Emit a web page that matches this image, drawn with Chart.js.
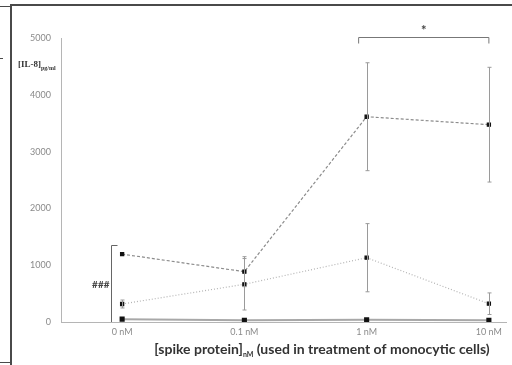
<!DOCTYPE html>
<html>
<head>
<meta charset="utf-8">
<script src="https://cdn.jsdelivr.net/npm/chart.js@4"></script>
<style>
  html, body { margin: 0; padding: 0; background: #fff; }
  #wrap { position: relative; width: 512px; height: 365px; }
</style>
</head>
<body>
<div id="wrap"><canvas id="chart" width="512" height="365"></canvas></div>
<script>
// Data
const CATEGORIES = ['0 nM', '0.1 nM', '1 nM', '10 nM'];
const SERIES_A = [1195, 886, 3614, 3474];
const ERROR_A = [0, 264, 950, 1010];
const SERIES_B = [317, 664, 1132, 322];
const ERROR_B = [70, 453, 600, 190];
const SERIES_C = [50, 30, 40, 30];
const ERROR_C = [0, 0, 0, 0];
const Y_TICKS = [0, 1000, 2000, 3000, 4000, 5000];

// Significance marks
const STAR_FROM = 2;
const STAR_TO = 3;
const STAR_LEVEL = 5020;
const STAR_TEXT = '*';
const HASH_TOP = 1360;
const HASH_TEXT = '###';

// Colors
const TICK_COLOR = '#8a8a8a';
const AXIS_COLOR = '#b5b5b5';
const FRAME_COLOR = '#4a4a4a';
const TITLE_COLOR = '#333333';
const FONT_FAMILY = 'Lato, "Open Sans", sans-serif';

const toPoints = (values) => values.map((v, i) => ({ x: i, y: v }));

const errorBars = {
    id: 'errorBars',
    afterDatasetsDraw(chart) {
        const ctx = chart.ctx;
        const xs = chart.scales.x;
        const ys = chart.scales.y;
        const sets = [ERROR_A, ERROR_B, ERROR_C];
        ctx.save();
        ctx.strokeStyle = '#9a9a9a';
        ctx.lineWidth = 1;
        chart.data.datasets.forEach((ds, di) => {
            ds.data.forEach((p, i) => {
                const err = sets[di][i];
                if (!err) return;
                const x = Math.round(xs.getPixelForValue(p.x)) + 0.5;
                const top = ys.getPixelForValue(p.y + err);
                const bot = ys.getPixelForValue(p.y - err);
                ctx.beginPath();
                ctx.moveTo(x, top); ctx.lineTo(x, bot);
                ctx.moveTo(x - 2, top); ctx.lineTo(x + 2, top);
                ctx.moveTo(x - 2, bot); ctx.lineTo(x + 2, bot);
                ctx.stroke();
            });
        });
        ctx.restore();
    }
};

const decorations = {
    id: 'decorations',
    afterDraw(chart) {
        const ctx = chart.ctx;
        const xs = chart.scales.x;
        const ys = chart.scales.y;
        ctx.save();

        // outer frame pieces
        ctx.strokeStyle = FRAME_COLOR;
        ctx.lineWidth = 2;
        ctx.beginPath();
        ctx.moveTo(11, 365); ctx.lineTo(11, 5); ctx.lineTo(512, 5);
        ctx.stroke();
        ctx.lineWidth = 1;
        ctx.beginPath();
        ctx.moveTo(0, 6.5); ctx.lineTo(10, 6.5);
        ctx.moveTo(0, 362.5); ctx.lineTo(10, 362.5);
        ctx.moveTo(0, 58.5); ctx.lineTo(3, 58.5);
        ctx.stroke();

        // star bracket
        const x1 = xs.getPixelForValue(STAR_FROM) - 8;
        const x2 = xs.getPixelForValue(STAR_TO);
        const yb = Math.round(ys.getPixelForValue(STAR_LEVEL)) + 0.5;
        ctx.strokeStyle = '#777';
        ctx.beginPath();
        ctx.moveTo(x1, yb + 6); ctx.lineTo(x1, yb); ctx.lineTo(x2, yb); ctx.lineTo(x2, yb + 6);
        ctx.stroke();
        ctx.fillStyle = '#444';
        ctx.font = 'bold 13px ' + FONT_FAMILY;
        ctx.textAlign = 'center';
        ctx.textBaseline = 'middle';
        ctx.fillText(STAR_TEXT, (x1 + x2) / 2, yb - 7);

        // hash bracket
        const hx = Math.round(xs.getPixelForValue(0)) - 10.5;
        const hTop = Math.round(ys.getPixelForValue(HASH_TOP)) + 0.5;
        const hBot = ys.getPixelForValue(0);
        ctx.strokeStyle = '#666';
        ctx.beginPath();
        ctx.moveTo(hx + 6, hTop); ctx.lineTo(hx, hTop); ctx.lineTo(hx, hBot);
        ctx.stroke();
        ctx.fillStyle = '#444';
        ctx.font = 'bold 10px ' + FONT_FAMILY;
        ctx.textAlign = 'right';
        ctx.fillText(HASH_TEXT, hx - 2, (hTop + hBot) / 2 + 1);

        // y title with subscript
        ctx.fillStyle = TITLE_COLOR;
        ctx.textAlign = 'left';
        ctx.textBaseline = 'alphabetic';
        ctx.font = 'bold 9px "Liberation Serif", serif';
        ctx.fillText('[IL-8]', 18, 67);
        let w = ctx.measureText('[IL-8]').width;
        ctx.font = 'bold 6px "Liberation Serif", serif';
        ctx.fillText('pg/ml', 18 + w, 70);

        // x title with subscript
        const parts = [
            ['[spike protein]', 'bold 14px ' + FONT_FAMILY, 0],
            ['nM', 'bold 7px ' + FONT_FAMILY, 3],
            [' (used in treatment of monocytic cells)', 'bold 14px ' + FONT_FAMILY, 0]
        ];
        let total = 0;
        parts.forEach(p => { ctx.font = p[1]; total += ctx.measureText(p[0]).width; });
        let x = 322 - total / 2;
        parts.forEach(p => {
            ctx.font = p[1];
            ctx.fillText(p[0], x, 354 + p[2]);
            x += ctx.measureText(p[0]).width;
        });
        ctx.restore();
    }
};

const data = {
    datasets: [{
        label: 'A',
        data: toPoints(SERIES_A),
        borderColor: '#8c8c8c',
        borderWidth: 1.2,
        borderDash: [3, 2],
        pointStyle: 'rect',
        pointRadius: 2.2,
        pointBackgroundColor: '#111',
        pointBorderColor: '#111'
    }, {
        label: 'B',
        data: toPoints(SERIES_B),
        borderColor: '#b4b4b4',
        borderWidth: 1.2,
        borderDash: [1, 2],
        pointStyle: 'rect',
        pointRadius: 2.2,
        pointBackgroundColor: '#111',
        pointBorderColor: '#111'
    }, {
        label: 'C',
        data: toPoints(SERIES_C),
        borderColor: '#a8a8a8',
        borderWidth: 2,
        pointStyle: 'rect',
        pointRadius: 2.2,
        pointBackgroundColor: '#111',
        pointBorderColor: '#111'
    }]
};

const options = {
    responsive: false,
    animation: false,
    layout: { padding: { top: 38, left: 0, right: 0, bottom: 0 } },
    plugins: { legend: { display: false }, tooltip: { enabled: false } },
    scales: {
        x: {
            type: 'linear',
            min: -0.5,
            max: 3.14,
            afterBuildTicks: (scale) => { scale.ticks = CATEGORIES.map((c, i) => ({ value: i })); },
            afterFit: (scale) => { scale.height = 43; },
            grid: { display: false, drawTicks: false },
            border: { color: AXIS_COLOR, width: 1 },
            ticks: {
                padding: 5,
                color: TICK_COLOR,
                font: { family: FONT_FAMILY, size: 9 },
                callback: (v) => CATEGORIES[v]
            }
        },
        y: {
            min: 0,
            max: 5000,
            afterBuildTicks: (scale) => { scale.ticks = Y_TICKS.map(v => ({ value: v })); },
            afterFit: (scale) => { scale.width = 61; },
            grid: { display: false, drawTicks: false },
            border: { color: AXIS_COLOR, width: 1 },
            ticks: {
                padding: 10,
                color: TICK_COLOR,
                font: { family: FONT_FAMILY, size: 9 },
                callback: (v) => String(v)
            }
        }
    }
};

new Chart(document.getElementById('chart'), {
    type: 'line',
    data: data,
    options: options,
    plugins: [errorBars, decorations]
});
</script>
</body>
</html>
